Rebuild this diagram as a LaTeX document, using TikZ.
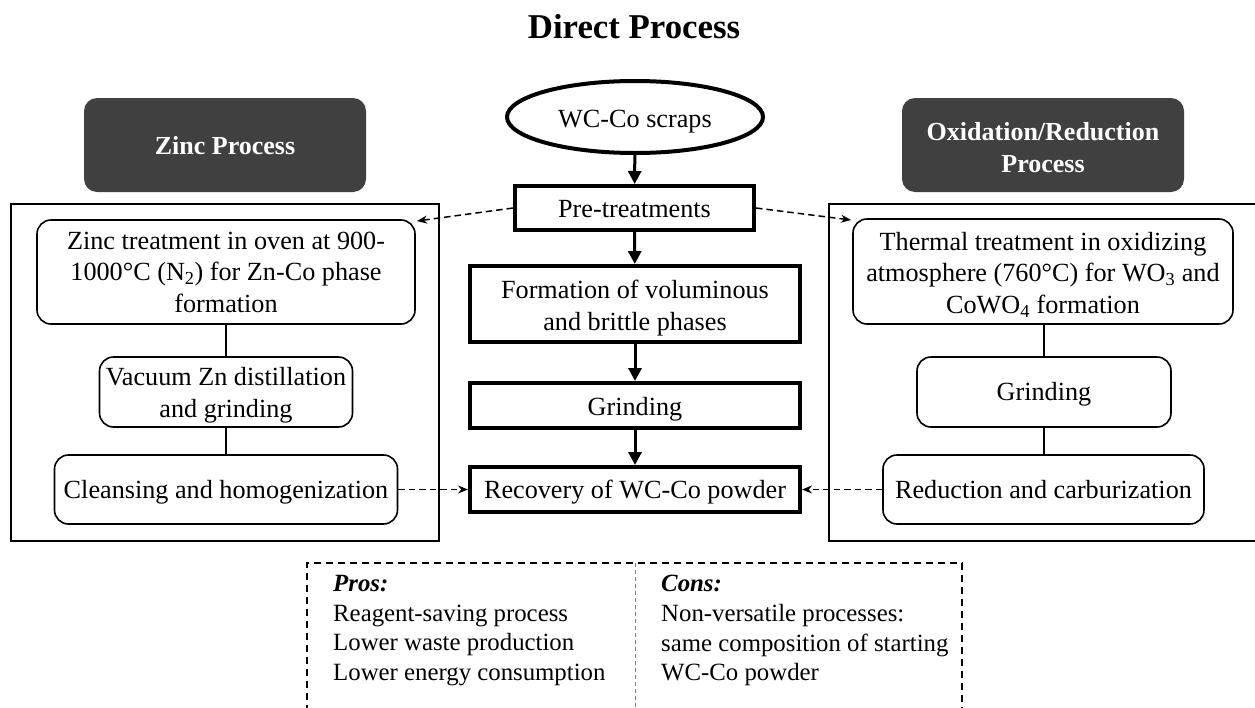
\documentclass[tikz,border=0pt]{standalone}
\usepackage{fontspec}
\setmainfont{Liberation Serif}
\usetikzlibrary{arrows.meta,shapes.geometric}
\definecolor{darkbox}{HTML}{404040}
\newcommand\lowtxt[2][3pt]{\raisebox{-#1}[\height][\depth]{\begin{tabular}{@{}c@{}}#2\end{tabular}}}
\begin{document}
\begin{tikzpicture}[x=1pt,y=-1pt,
  every node/.style={font=\fontsize{26.2}{31.5}\selectfont, align=center, inner sep=0pt},
  headbox/.style={fill=darkbox, rounded corners=13pt, text=white, font=\fontsize{26}{31.5}\selectfont\bfseries},
  subbox/.style={draw, line width=1.6pt, rounded corners=14pt},
  mainbox/.style={draw, line width=4pt},
  mainarrow/.style={line width=3pt, -{Triangle[length=13pt,width=13pt]}},
  sidearrow/.style={line width=1.5pt, dash pattern=on 6.5pt off 4pt, -{Stealth[length=10pt,width=8pt]}},
  link/.style={line width=1.6pt}
]
\useasboundingbox (0,0) rectangle (1255,707);

\node[font=\fontsize{34.8}{40}\selectfont\bfseries] (title) at (634,27) {Direct Process};

% head boxes
\node[headbox, minimum width=282pt, minimum height=94pt] (zinchead) at (225,145) {\lowtxt[3.5pt]{Zinc Process}};
\node[headbox, minimum width=282pt, minimum height=94pt] (oxhead) at (1043,145) {\lowtxt[5pt]{Oxidation/Reduction\\Process}};

% outer boxes
\draw[line width=1.6pt] (11,204) rectangle (439,541);
\draw[line width=1.6pt] (1258,204) -- (829,204) -- (829,541) -- (1258,541);

% left column
\node[subbox, minimum width=378pt, minimum height=104pt] (zinc) at (226,272) {\lowtxt[2.5pt]{Zinc treatment in oven at 900-\\1000°C (N\textsubscript{2}) for Zn-Co phase\\formation}};
\node[subbox, minimum width=253pt, minimum height=70pt] (vac) at (226,392) {\lowtxt{Vacuum Zn distillation\\and grinding}};
\node[subbox, minimum width=343pt, minimum height=69pt] (clean) at (226,489.5) {\lowtxt{Cleansing and homogenization}};
\draw[link] (zinc) -- (vac);
\draw[link] (vac) -- (clean);

% right column
\node[subbox, minimum width=380pt, minimum height=105pt] (therm) at (1043,271.5) {\lowtxt[4pt]{Thermal treatment in oxidizing\\atmosphere (760°C) for WO\textsubscript{3} and\\CoWO\textsubscript{4} formation}};
\node[subbox, minimum width=254pt, minimum height=70pt] (grind2) at (1044,392) {\lowtxt[2pt]{Grinding}};
\node[subbox, minimum width=321pt, minimum height=69pt] (red) at (1043.5,489.5) {\lowtxt[3pt]{Reduction and carburization}};
\draw[link] (therm.south -| grind2) -- (grind2);
\draw[link] (grind2.south) -- (grind2.south |- red.north);

% central column
\node[draw, ellipse, line width=4pt, minimum width=256pt, minimum height=72pt] (scrap) at (635,117) {\lowtxt[4pt]{WC-Co scraps}};
\node[mainbox, minimum width=239pt, minimum height=44pt] (pre) at (634.5,208) {\lowtxt[3pt]{Pre-treatments}};
\node[mainbox, minimum width=330pt, minimum height=76pt] (form) at (635,304) {\lowtxt[4pt]{Formation of voluminous\\and brittle phases}};
\node[mainbox, minimum width=330pt, minimum height=45pt] (grind) at (635,405.5) {\lowtxt[3.5pt]{Grinding}};
\node[mainbox, minimum width=330pt, minimum height=45pt] (rec) at (635,489.5) {\lowtxt[3pt]{Recovery of WC-Co powder}};

\draw[mainarrow] (scrap) -- (pre);
\draw[mainarrow] (pre) -- (form);
\draw[mainarrow] (form) -- (grind);
\draw[mainarrow] (grind) -- (rec);

% dashed side arrows
\coordinate (lt) at (417,221);
\coordinate (rt) at (851,220);
\draw[sidearrow] (pre.west) -- (lt);
\draw[sidearrow] (pre.east) -- (rt);
\draw[sidearrow] (clean.east) -- (rec.west);
\draw[sidearrow] (red.west) -- (rec.east);

% pros / cons
\draw[line width=1.3pt, dash pattern=on 7pt off 5pt] (307,712) -- (307,563) -- (962,563) -- (962,712);
\draw[line width=0.8pt, gray, dash pattern=on 4pt off 3pt] (635,563) -- (635,712);
\node[anchor=north west, align=left, font=\fontsize{24.8}{29.7}\selectfont] (pros) at (333,575)
  {\textbf{\textit{Pros:}}\\Reagent-saving process\\Lower waste production\\Lower energy consumption};
\node[anchor=north west, align=left, font=\fontsize{24.8}{29.7}\selectfont] (cons) at (661,575)
  {\textbf{\textit{Cons:}}\\Non-versatile processes:\\same composition of starting\\WC-Co powder};
\end{tikzpicture}
\end{document}
